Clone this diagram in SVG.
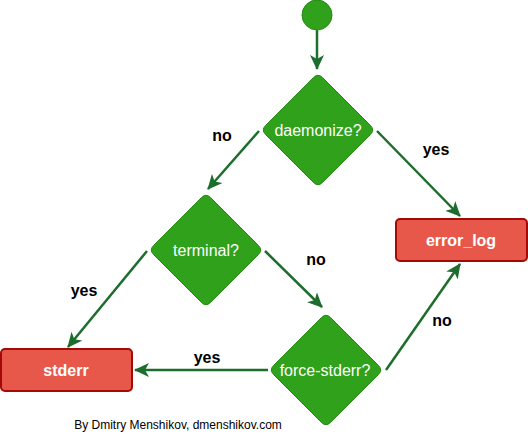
<svg xmlns="http://www.w3.org/2000/svg" width="528" height="441" viewBox="0 0 528 441">
<style>
.dec{fill:#2fa11b;stroke:#268a14;stroke-width:1}
.term{fill:#e8584a;stroke:#a30a05;stroke-width:2}
.nt{font-family:"Liberation Sans",Arial,sans-serif;font-size:16px;fill:#ffffff;text-anchor:middle}
.bt{font-family:"Liberation Sans",Arial,sans-serif;font-size:16px;font-weight:bold;fill:#ffffff;text-anchor:middle}
.lbl{font-family:"Liberation Sans",Arial,sans-serif;font-size:16px;font-weight:bold;fill:#000000;text-anchor:middle}
.foot{font-family:"Liberation Sans",Arial,sans-serif;font-size:12px;fill:#000000;text-anchor:middle}
.edge{fill:none;stroke:#1d6d2c;stroke-width:2.5}
</style>
<defs>
<path id="dia" d="M-4.6,-52.4 Q0,-57 4.6,-52.4 L52.4,-4.6 Q57,0 52.4,4.6 L4.6,52.4 Q0,57 -4.6,52.4 L-52.4,4.6 Q-57,0 -52.4,-4.6 Z"/>
<marker id="arr" viewBox="-14 -7.5 15 15" refX="0" refY="0" markerWidth="15" markerHeight="15" markerUnits="userSpaceOnUse" orient="auto">
<path d="M1,0 L-14,-7 L-10,0 L-14,7 Z" fill="#1d6d2c"/>
</marker>
</defs>
<g id="connectors">
<line class="edge" x1="317" y1="30" x2="317" y2="69" marker-end="url(#arr)"/>
<line class="edge" x1="259" y1="131" x2="208" y2="189" marker-end="url(#arr)"/>
<line class="edge" x1="377" y1="131" x2="460" y2="216" marker-end="url(#arr)"/>
<line class="edge" x1="147" y1="251" x2="68" y2="347" marker-end="url(#arr)"/>
<line class="edge" x1="265" y1="251" x2="322" y2="307" marker-end="url(#arr)"/>
<line class="edge" x1="386" y1="370" x2="460" y2="264" marker-end="url(#arr)"/>
<line class="edge" x1="268" y1="370" x2="135" y2="370" marker-end="url(#arr)"/>
<text class="lbl" x="222" y="141">no</text>
<text class="lbl" x="436" y="155">yes</text>
<text class="lbl" x="84" y="296">yes</text>
<text class="lbl" x="316" y="265">no</text>
<text class="lbl" x="442" y="326">no</text>
<text class="lbl" x="207" y="363">yes</text>
</g>
<g id="start">
<circle class="dec" cx="317" cy="15" r="15"/>
</g>
<g id="daemonize">
<use href="#dia" class="dec" transform="translate(318,130)"/>
<text class="nt" x="318" y="136">daemonize?</text>
</g>
<g id="terminal">
<use href="#dia" class="dec" transform="translate(206,250)"/>
<text class="nt" x="206" y="256">terminal?</text>
</g>
<g id="force-stderr">
<use href="#dia" class="dec" transform="translate(326,370)"/>
<text class="nt" x="325" y="376">force-stderr?</text>
</g>
<g id="error_log">
<rect class="term" x="396" y="219" width="131" height="42" rx="4"/>
<text class="bt" x="461" y="245.5">error_log</text>
</g>
<g id="stderr">
<rect class="term" x="1" y="349" width="131" height="42" rx="4"/>
<text class="bt" x="66" y="375.5">stderr</text>
</g>
<text class="foot" x="178" y="429">By Dmitry Menshikov, dmenshikov.com</text>
</svg>
